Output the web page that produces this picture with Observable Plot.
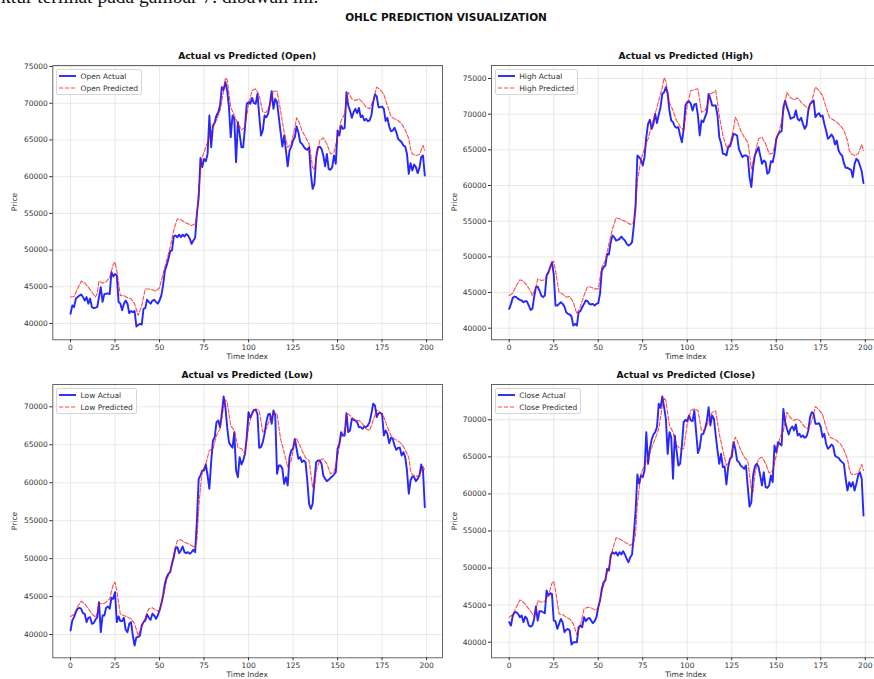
<!DOCTYPE html>
<html><head><meta charset="utf-8">
<script src="https://cdn.jsdelivr.net/npm/d3@7"></script>
<script src="https://cdn.jsdelivr.net/npm/@observablehq/plot@0.6"></script>
<style>
html,body{margin:0;padding:0;background:#fff;}
body{width:874px;height:679px;overflow:hidden;position:relative;font-family:"DejaVu Sans",sans-serif;color:#222;}
.abs{position:absolute;white-space:nowrap;line-height:1;}
.ctr{transform:translate(-50%,-50%);}
.para{position:absolute;left:1px;top:-14px;font-family:"Liberation Serif","DejaVu Serif",serif;font-size:19.5px;line-height:22px;color:#111;white-space:nowrap;}
.sup{font-weight:bold;font-size:10.5px;color:#111;}
.ttl{font-weight:bold;font-size:9.1px;color:#111;}
.lab{font-size:7.5px;color:#333;}
.rot{transform:translate(-50%,-50%) rotate(-90deg);}
.legend{position:absolute;border:1px solid #d6d6d6;border-radius:2px;background:rgba(255,255,255,0.85);padding:0 3px 0 2px;font-size:7.5px;color:#333;}
.legend .row{height:12px;display:flex;align-items:center;white-space:nowrap;}
.legend svg{margin-right:4.5px;flex:none;}
.panel{position:absolute;width:445px;height:300px;}
</style></head><body>
<div class="para">ktur terlihat pada gambar 7. dibawah ini.</div>
<div class="abs ctr sup" style="left:446px;top:17px;">OHLC PREDICTION VISUALIZATION</div>
<script>
// ---- data ----
const timeTicks = [0, 25, 50, 75, 100, 125, 150, 175, 200];
const priceTicksTop = [40000, 45000, 50000, 55000, 60000, 65000, 70000, 75000];
const priceTicksBottom = [40000, 45000, 50000, 55000, 60000, 65000, 70000];

const openActual = [
41320,42450,42230,43400,43600,43800,43950,43600,43130,43600,
42700,43400,42230,42100,42150,42230,43600,44950,42950,44000,
44050,44100,44000,47000,46400,46750,46550,42950,42700,41800,
42700,43130,42700,41400,41700,41550,41700,39600,39800,39950,
39850,42000,42100,43230,42950,42700,43130,43230,42950,42700,
43130,43800,45200,47200,47900,48800,49850,49950,51850,52000,
51750,52100,51750,52100,51850,52200,52000,51550,50850,51300,
51650,54950,57200,62550,61300,62400,62100,63100,68330,64000,
66950,67400,68330,68780,69690,72200,71820,72870,71730,69460,
65380,68330,67870,61970,67420,65830,64000,64000,66740,69920,
70140,69920,70730,70010,69920,71280,68330,65600,66280,68330,
68100,68550,69920,71640,69240,70600,70140,68100,66060,64100,
65600,63560,61400,63560,64100,64920,65380,66830,66060,64690,
64470,64100,63790,63650,64000,60380,58340,59020,62650,64000,
64100,63790,62880,61400,63100,61060,60930,61300,62880,61750,
66280,65600,66950,66510,66650,71500,69690,69000,68010,68780,
69240,68650,69370,68100,68330,67650,67870,67560,67650,68330,
70140,71190,70920,69460,69460,69550,69240,67560,68010,66830,
66190,66280,66650,66060,65150,64920,64690,64240,64100,63100,
60380,61840,60840,61660,61300,60480,61200,62650,62880,60160];

const highActual = [
42710,43410,44250,44440,44350,44110,43970,43880,43640,43790,
43740,43180,42570,42710,44350,45750,45840,45280,44580,44350,
44580,47380,47850,48550,49250,47620,43180,43180,43410,43640,
43410,43040,42240,42010,41920,41640,40370,40610,40370,42240,
42380,42940,43410,43880,43790,43410,43320,43410,43180,43410,
43500,44810,48080,48550,48780,50420,50330,52060,52990,52760,
52290,52380,52520,52850,52520,52290,51820,51590,51730,52060,
54390,57430,64210,63970,63600,62800,63970,66780,68640,69210,
67940,68640,70050,68740,69950,70980,72850,73080,73790,72850,
70510,69110,68880,68270,68080,68180,67010,66070,67940,71210,
71680,71820,71450,70510,71360,71450,69810,67010,69110,68880,
69580,70280,72850,72150,71210,71210,71210,69810,66780,65930,
64440,64440,64210,65370,65470,66310,67240,67150,67010,65140,
64530,63970,64210,64210,64070,61170,59770,62570,64210,64810,
65370,64210,63040,63500,63270,61640,61870,63410,63270,64440,
66540,67150,67480,67620,70980,71920,70980,70280,69350,69490,
69580,70510,69350,69110,69490,68640,67940,68410,70510,71450,
71680,71920,69580,69950,70140,69670,69810,68640,67710,66540,
66780,67150,66780,65750,66310,64910,64440,64210,63130,62480,
62480,62340,62200,61170,63040,63740,63500,62800,62010,60330];

const lowActual = [
40530,41850,42290,42950,43390,43520,43390,42820,42730,41630,
42200,42290,41410,41500,41940,42290,44260,40310,42510,42510,
43520,43690,43390,44840,44700,45580,41630,42380,41760,41760,
42200,40620,40310,41410,41630,39870,38550,39650,39650,39870,
41190,41630,41850,42640,42200,41940,42730,42510,42070,42510,
43170,44040,45140,46680,47560,48000,48220,49320,50190,51420,
51510,50720,51070,51600,50850,50720,50850,50630,50850,51160,
50850,55020,60510,60950,61610,61610,62400,60950,59200,62710,
65560,66000,67980,68200,67320,69080,71360,69960,67320,65340,
64910,64600,66660,61610,60730,63370,62400,62930,63810,66000,
69300,68550,69080,69600,69600,69080,64600,64690,65340,66440,
67980,68990,69080,67760,69520,68860,61170,62270,62270,61830,
59860,60730,59640,63370,64250,64470,65780,64470,63150,63370,
62710,62930,62710,60290,57220,56560,57220,60290,62710,62930,
62930,62490,60950,60510,60210,60380,60650,60820,61080,61390,
64470,65130,66660,66220,66220,69170,66660,66880,68420,68290,
68200,67980,67320,67320,67100,67410,67320,67540,67980,69080,
70400,70180,68640,69170,69170,69080,66220,66880,66440,65210,
65920,65780,64910,64330,64600,64600,63590,64030,63370,61610,
58540,60290,60820,60730,60210,60510,60950,62400,61610,56780];

const closeActual = [
42700,42250,43600,44040,44040,43820,43370,43600,42700,43460,
43140,42250,42110,42250,43140,44810,42920,44180,44180,44040,
43910,46970,46290,46610,46520,42920,42830,41800,42470,43140,
42700,41350,41660,41800,41570,39680,40000,40000,40000,42020,
42250,42020,43370,42830,43140,43280,42920,42560,42830,43370,
44720,45620,47190,48090,48320,49890,49670,51690,52140,51920,
52140,51690,52140,51830,52280,51830,51240,50790,51470,51830,
54610,57760,62620,61360,62490,62260,63160,68340,64060,66090,
67300,68020,68340,69010,72160,71620,73150,71710,70130,65410,
68340,67660,62040,67890,65860,63840,64060,66540,69690,70000,
69820,70580,69910,69820,71260,68340,65500,66220,68020,68110,
68790,69820,71710,69240,70580,70130,67890,65860,64060,65410,
63610,63700,61270,63610,64740,64960,66990,66090,64510,64290,
63840,63610,63390,63840,60910,58300,58890,62490,63700,64060,
63700,62490,61140,62940,60910,60820,61140,62490,61590,66540,
65640,66990,66760,66540,71480,69690,68790,68020,68790,69100,
68560,69370,67890,68110,67660,67890,67570,67750,68560,70360,
71030,70810,69460,69460,69550,69010,67660,68110,66760,66090,
66310,66670,66400,65190,64960,64870,64510,64290,64060,62040,
60460,61590,61000,61590,60460,61360,62490,62940,62040,57090];

// time indices at which the predicted (dashed) series were read
const predIdx = [0,2,4,6,8,10,12,14,15,16,18,20,22,24,25,26,28,30,32,34,36,38,40,42,44,46,48,50,52,54,56,58,60,62,64,66,68,70,71,72,73,74,76,78,80,82,84,86,87,88,90,92,94,96,98,100,102,104,106,108,110,112,114,116,118,120,122,124,126,127,128,130,132,134,136,137,138,140,142,144,146,148,150,152,154,156,158,160,162,164,166,168,170,172,174,176,178,180,182,184,186,188,190,191,192,194,196,198,199];
const highPredIdx = [0,2,4,6,8,10,12,13,15,16,18,20,22,24,25,26,28,30,32,34,36,38,40,42,44,46,48,50,52,54,56,58,60,62,64,66,68,70,71,72,73,74,76,78,80,82,84,86,87,88,90,92,94,96,98,100,102,104,106,108,110,112,113,115,116,118,120,122,124,126,127,128,130,132,134,135,136,138,140,142,144,146,148,150,152,154,156,158,160,162,164,166,168,170,172,174,176,178,180,182,184,186,188,190,191,192,194,196,198,199];

const openPred = [43600,43680,44730,45770,45500,44950,44270,43600,44100,45770,45500,45680,46300,48030,48350,47220,43800,43800,43500,43360,42700,41090,42450,44700,44700,44590,44400,44860,46770,48590,50400,52760,54260,54120,53800,53570,53350,53570,54710,58110,60610,62650,64000,65380,66650,67740,69000,71730,73460,73180,69460,68330,67190,66380,66740,69920,71730,71960,71050,68780,68780,69690,71640,71640,69000,66060,64000,64470,66740,68010,67650,66280,65380,64470,61300,60930,62650,64920,65290,64470,63100,63330,65380,67650,68550,71500,70600,70370,70600,70140,69460,69240,70370,72190,71820,71190,69690,68190,67870,67650,67190,66380,65150,63790,63100,62880,63010,64240,63560];
const highPred = [44580,44910,45980,46780,46590,45980,45190,44580,45750,46920,46680,46780,47620,49250,49390,48080,45050,44810,44350,44440,43640,42010,43040,44580,45840,45750,45510,45510,48550,49490,51820,53920,55470,55330,55090,54860,54530,54860,56260,60700,62100,63740,65140,66540,68410,70050,71920,73790,75090,74630,71680,70510,69110,68270,67710,71210,73320,73410,73550,70280,70510,71680,72850,73080,73320,69810,67010,65370,65840,67940,69580,69110,67710,66780,66070,64440,62340,64440,66540,66780,65840,64440,64530,66310,67940,70280,73080,72290,72010,72290,71680,71210,70750,71920,73790,73320,72620,70980,69490,69210,68880,68410,67710,66310,64910,64440,64210,64440,65750,64910];
const lowPred = [42380,42640,43690,44390,44040,43390,42730,42290,42730,44130,44040,44260,44700,46590,46900,45800,42640,42510,42290,42070,41410,39870,40970,42290,43390,43520,43170,43080,44920,47120,48440,50630,52390,52480,52170,51950,51730,51510,52390,56560,59420,61390,62490,64250,64470,66220,67100,69960,70920,70610,67540,66880,64690,64470,63810,67320,69300,69740,69520,66660,67100,68420,69170,69080,65780,64030,62050,62930,65560,65780,65340,64250,63280,62930,59420,59200,61610,62930,63150,62490,61170,61390,63370,66000,66880,69080,68640,68200,68200,67760,67100,66880,68200,69600,69300,68640,67320,66220,65780,65480,65130,64330,63370,61610,61080,60820,60950,62140,61610];
const closePred = [43370,43730,44720,45710,45400,44810,44180,43460,44040,45620,45400,45530,46290,47950,48230,46970,43820,43730,43370,43140,42470,41030,42250,44500,44720,44630,44360,44500,46750,48540,50120,52460,54080,53940,53630,53360,53040,53490,54610,58660,60690,62710,63840,64960,66220,67440,68790,71930,72970,72610,69240,68340,66540,66090,66090,69460,71260,71480,71260,68560,68650,69820,71030,71170,68110,65860,63840,64510,66760,67660,67210,65950,64960,64510,60690,60240,62710,64740,64960,64150,62800,63160,65190,67570,68470,71030,70270,69910,70130,69690,69010,68790,69910,71800,71350,70720,69010,67660,67440,67210,66760,65950,64740,63390,62710,62620,62800,63970,63160];

// ---- layout ----
const panels = [
  {name:"Open",  actual:openActual,  idx:predIdx,     pred:openPred,  left:0,   top:60,  ml:52.3, mr:3,   mb:20.7, yDomain:[37780,75140], yTicks:priceTicksTop},
  {name:"High",  actual:highActual,  idx:highPredIdx, pred:highPred,  left:440, top:60,  ml:51,   mr:4.3, mb:20.7, yDomain:[38374,76822], yTicks:priceTicksTop},
  {name:"Low",   actual:lowActual,   idx:predIdx,     pred:lowPred,   left:0,   top:379, ml:52.3, mr:3,   mb:21.7, yDomain:[36930,72940], yTicks:priceTicksBottom},
  {name:"Close", actual:closeActual, idx:predIdx,     pred:closePred, left:440, top:379, ml:51,   mr:4.3, mb:21.7, yDomain:[37896,74762], yTicks:priceTicksBottom}
];

const body = document.body;
function addDiv(cls, style, text) {
  const d = document.createElement("div");
  d.className = cls; d.setAttribute("style", style); d.textContent = text;
  body.appendChild(d); return d;
}

for (const p of panels) {
  const W = 445, H = 300, mt = 5;
  const actualData = p.actual.map((v, i) => ({i, v}));
  const predData = p.idx.map((i, k) => ({i, v: p.pred[k]}));
  const chart = Plot.plot({
    width: W, height: H,
    marginLeft: p.ml, marginRight: p.mr, marginTop: mt, marginBottom: p.mb,
    style: {background: "transparent", overflow: "visible", fontFamily: "DejaVu Sans, sans-serif", fontSize: "7.5px", color: "#333", maxWidth: "none"},
    x: {domain: [-9.95, 208.95]},
    y: {domain: p.yDomain},
    marks: [
      Plot.gridX(timeTicks, {stroke: "#b0b0b0", strokeOpacity: 0.35, strokeWidth: 0.8}),
      Plot.gridY(p.yTicks, {stroke: "#b0b0b0", strokeOpacity: 0.35, strokeWidth: 0.8}),
      Plot.line(actualData, {x: "i", y: "v", stroke: "blue", strokeWidth: 1.9, strokeOpacity: 0.85}),
      Plot.line(predData, {x: "i", y: "v", stroke: "red", strokeWidth: 1.1, strokeOpacity: 0.7, strokeDasharray: "4.2,1.8"}),
      Plot.frame({stroke: "#555", strokeWidth: 0.9}),
      Plot.axisX(timeTicks, {tickSize: 3, tickPadding: 2, label: null, tickFormat: d => String(d)}),
      Plot.axisY(p.yTicks, {tickSize: 3, tickPadding: 2, label: null, tickFormat: d => String(d)})
    ]
  });
  const holder = document.createElement("div");
  holder.className = "panel";
  holder.style.left = p.left + "px"; holder.style.top = p.top + "px";
  holder.appendChild(chart);
  body.appendChild(holder);

  const fl = p.left + p.ml, fr = p.left + W - p.mr;
  const ft = p.top + mt, fb = p.top + H - p.mb;
  const cx = (fl + fr) / 2, cy = (ft + fb) / 2;
  addDiv("abs ctr ttl", `left:${cx}px;top:${ft - 8}px;`, `Actual vs Predicted (${p.name})`);
  addDiv("abs rot lab", `left:${p.left + 14.7}px;top:${cy}px;`, "Price");
  addDiv("abs ctr lab", `left:${cx}px;top:${fb + 18}px;`, "Time Index");

  const lg = document.createElement("div");
  lg.className = "legend";
  lg.style.left = (fl + 3.7) + "px"; lg.style.top = (ft + 4.3) + "px";
  lg.innerHTML =
    `<div class="row"><svg width="17" height="12"><line x1="0" x2="17" y1="6" y2="6" stroke="blue" stroke-width="1.9" stroke-opacity="0.85"/></svg><span>${p.name} Actual</span></div>` +
    `<div class="row"><svg width="17" height="12"><line x1="0" x2="17" y1="6" y2="6" stroke="red" stroke-width="1.1" stroke-opacity="0.7" stroke-dasharray="4.2,1.8"/></svg><span>${p.name} Predicted</span></div>`;
  body.appendChild(lg);
}
</script>
</body></html>
